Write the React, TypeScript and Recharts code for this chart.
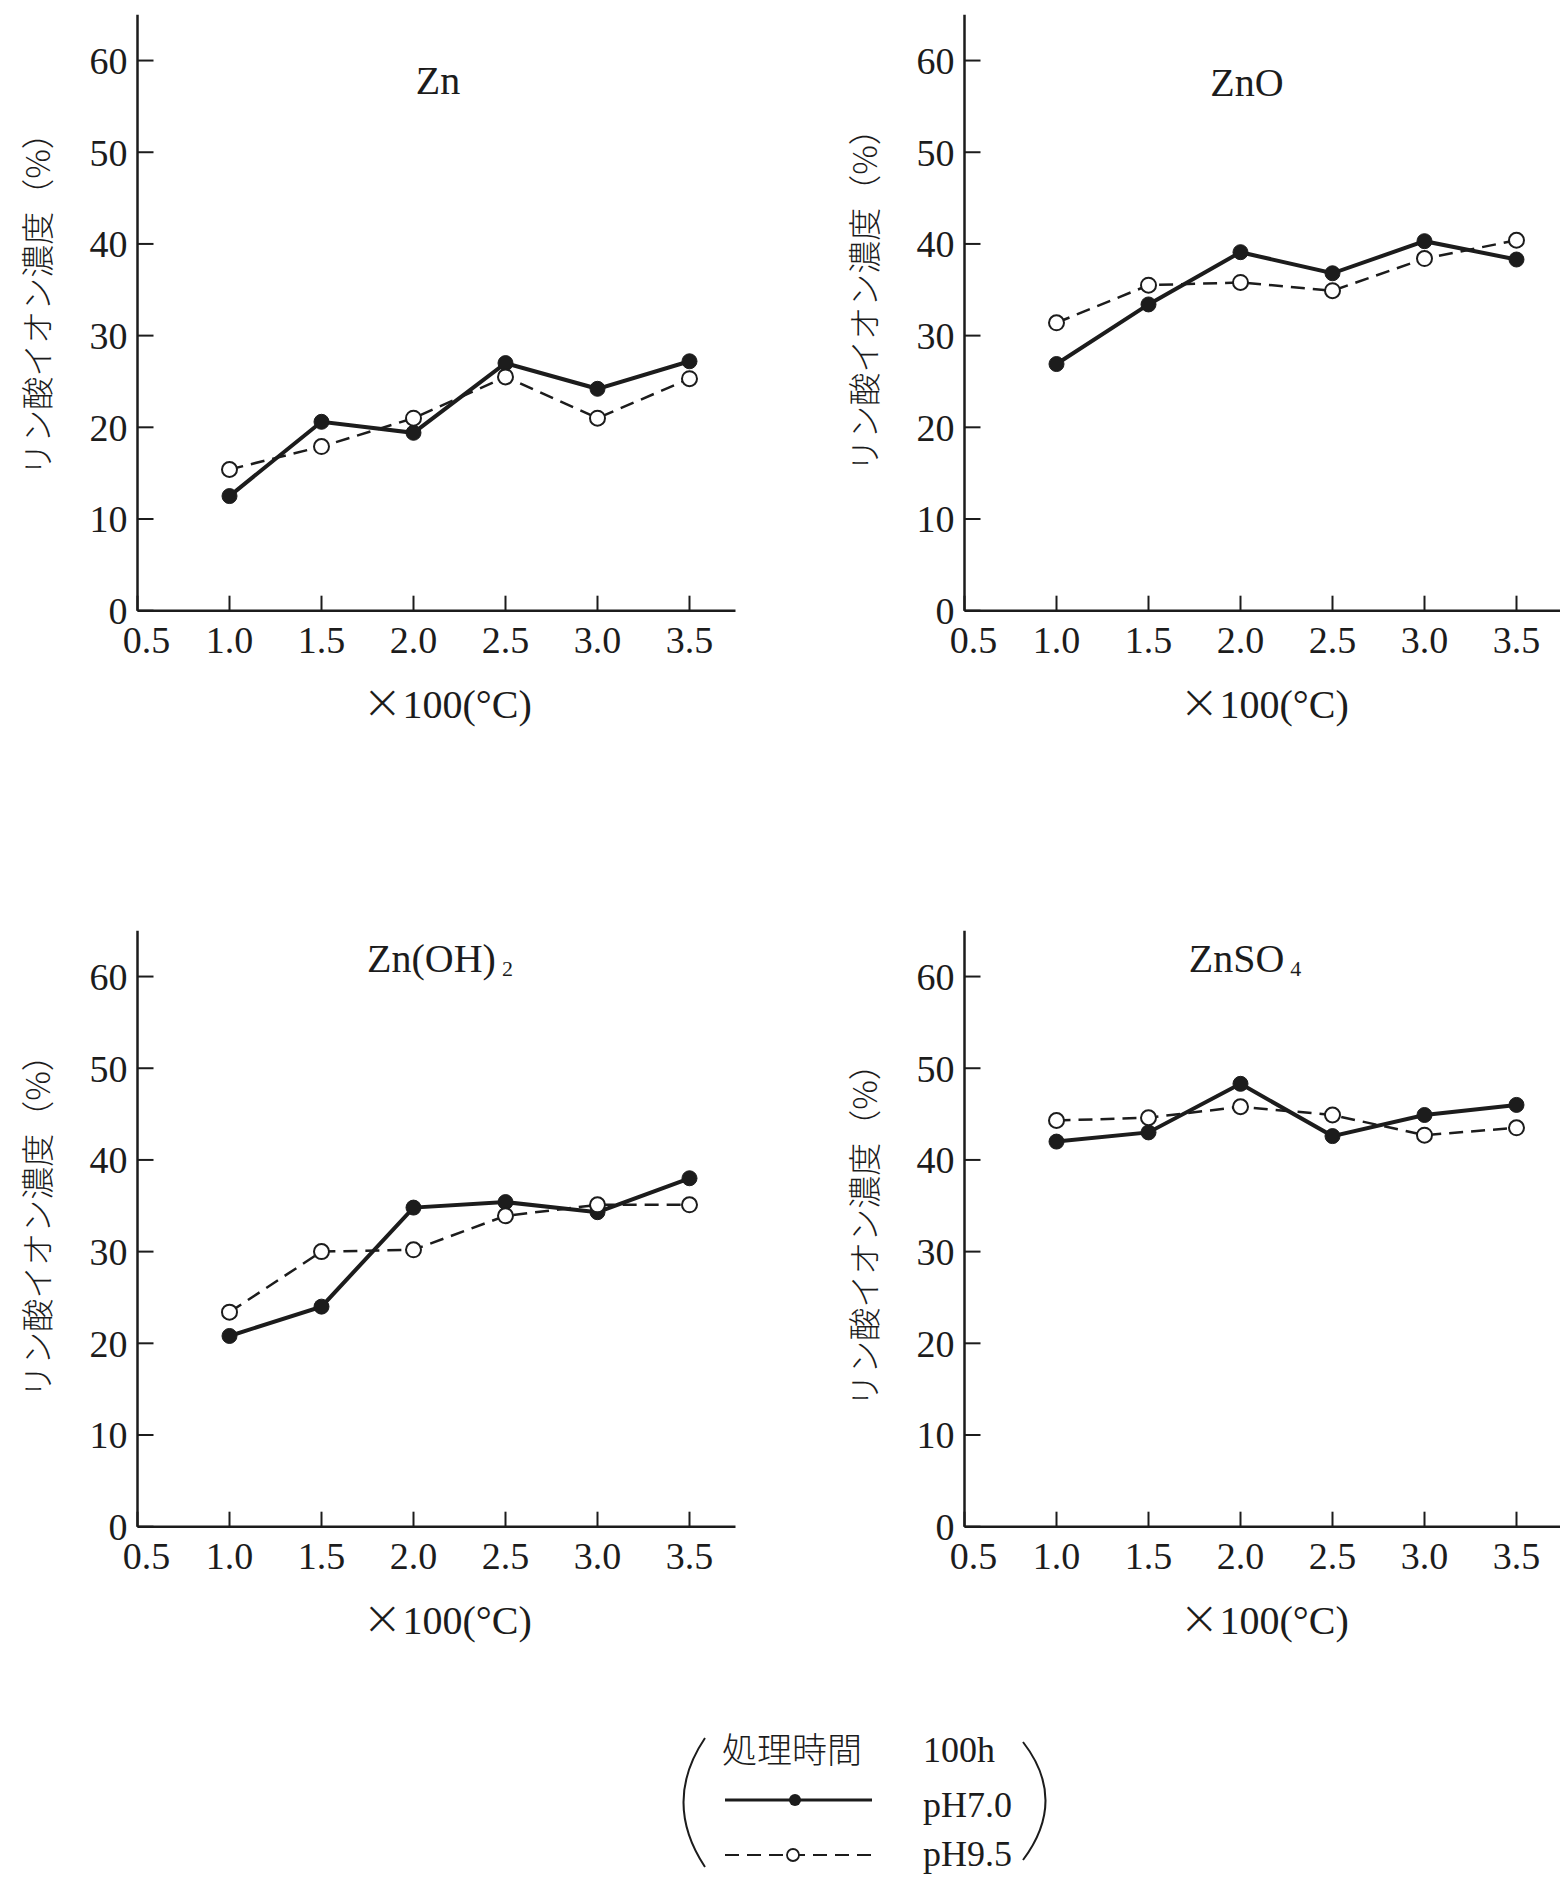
import React from 'react';
import { LineChart, Line, XAxis, YAxis } from 'recharts';

// temperature (x100 °C) and phosphate ion concentration (%)
const temps = [1.0, 1.5, 2.0, 2.5, 3.0, 3.5];

const znPH70 = [12.5, 20.6, 19.4, 27.0, 24.2, 27.2];
const znPH95 = [15.4, 17.9, 21.0, 25.5, 21.0, 25.3];

const znoPH70 = [26.9, 33.4, 39.1, 36.8, 40.3, 38.3];
const znoPH95 = [31.4, 35.5, 35.8, 34.9, 38.4, 40.4];

const znohPH70 = [20.8, 24.0, 34.8, 35.4, 34.3, 38.0];
const znohPH95 = [23.4, 30.0, 30.2, 33.9, 35.1, 35.1];

const znso4PH70 = [42.0, 43.0, 48.3, 42.6, 44.9, 46.0];
const znso4PH95 = [44.3, 44.6, 45.8, 44.9, 42.7, 43.5];

const xTicks = [0.5, 1.0, 1.5, 2.0, 2.5, 3.0, 3.5];
const yTicks = [0, 10, 20, 30, 40, 50, 60];

const yLabel = 'リン酸イオン濃度（%）';

const INK = '#1c1c1c';
const SERIF = '"Liberation Serif", "DejaVu Serif", serif';
const JP = '"Noto Sans CJK JP", sans-serif';

const W = 745.5;
const H = 740.7;
const YW = 137.5;

// x tick: the 0.5 label sits a little right of the y axis, like the original
const XTick = ({ x, y, payload }) => {
  const shift = payload.value === 0.5 ? 9 : 0;
  return (
    <text x={x + shift} y={y} dy="0.71em" textAnchor="middle" fill={INK} fontSize={38} fontFamily={SERIF}>
      {payload.value.toFixed(1)}
    </text>
  );
};

const Panel = ({ left, top, title, sub, ph70, ph95, titleX, titleY, yLabelY, xLabelX }) => {
  const data = temps.map((t, i) => ({ t, ph70: ph70[i], ph95: ph95[i] }));
  return (
    <div style={{ position: 'absolute', left, top }}>
      <LineChart width={W} height={H} data={data} margin={{ top: 14.7, right: 10, bottom: 0, left: 0 }}>
        <XAxis
          dataKey="t"
          type="number"
          domain={[0.5, 3.75]}
          allowDataOverflow
          ticks={xTicks}
          height={130}
          tickSize={-15}
          tickMargin={30}
          axisLine={{ stroke: INK, strokeWidth: 2.5 }}
          tickLine={{ stroke: INK, strokeWidth: 2 }}
          tick={<XTick />}
        />
        <YAxis
          type="number"
          domain={[0, 65]}
          allowDataOverflow
          ticks={yTicks}
          width={YW}
          tickSize={-16}
          tickMargin={26}
          axisLine={{ stroke: INK, strokeWidth: 2.5 }}
          tickLine={{ stroke: INK, strokeWidth: 2 }}
          tick={{ fill: INK, fontSize: 38, fontFamily: SERIF }}
        />
        <Line
          type="linear"
          dataKey="ph70"
          stroke={INK}
          strokeWidth={4}
          dot={{ r: 7.5, fill: INK, stroke: INK, strokeWidth: 1 }}
          activeDot={false}
          isAnimationActive={false}
        />
        <Line
          type="linear"
          dataKey="ph95"
          stroke={INK}
          strokeWidth={2.5}
          strokeDasharray="14 8"
          dot={{ r: 7.5, fill: '#fff', stroke: INK, strokeWidth: 2, strokeDasharray: '0' }}
          activeDot={false}
          isAnimationActive={false}
        />
        <text x={titleX} y={titleY} textAnchor="middle" fill={INK} fontSize={40} fontFamily={SERIF}>
          {title}
          {sub && (
            <tspan fontSize={22} dx={6} dy={4}>
              {sub}
            </tspan>
          )}
        </text>
        <text
          x={36}
          y={yLabelY}
          transform={`rotate(-90 36 ${yLabelY})`}
          textAnchor="middle"
          dominantBaseline="central"
          fill={INK}
          fontSize={33}
          fontWeight={300}
          fontFamily={JP}
        >
          {yLabel}
        </text>
        <text x={xLabelX} y={718} textAnchor="middle" fill={INK} fontSize={40} fontFamily={SERIF}>
          <tspan fontSize={48} fontFamily={'"DejaVu Sans", sans-serif'} fontWeight={200}>
            ×
          </tspan>
          100(°C)
        </text>
      </LineChart>
    </div>
  );
};

const LegendBox = () => (
  <svg width={1560} height={177} style={{ position: 'absolute', left: 0, top: 1700 }}>
    <path d="M 705 38 Q 662 102 705 167" fill="none" stroke={INK} strokeWidth={2} />
    <path d="M 1023 42 Q 1068 100 1023 160" fill="none" stroke={INK} strokeWidth={2} />
    <text x={722} y={63} fill={INK} fontSize={35} fontWeight={300} fontFamily={JP}>
      処理時間
    </text>
    <text x={923} y={62} fill={INK} fontSize={36} fontFamily={SERIF}>
      100h
    </text>
    <line x1={725} y1={100} x2={872} y2={100} stroke={INK} strokeWidth={3} />
    <circle cx={795} cy={100} r={6} fill={INK} />
    <text x={923} y={117} fill={INK} fontSize={36} fontFamily={SERIF}>
      pH7.0
    </text>
    <line x1={725} y1={155} x2={872} y2={155} stroke={INK} strokeWidth={2} strokeDasharray="14 8" />
    <circle cx={793} cy={155} r={6} fill="#fff" stroke={INK} strokeWidth={1.8} />
    <text x={923} y={166} fill={INK} fontSize={36} fontFamily={SERIF}>
      pH9.5
    </text>
  </svg>
);

export default function App() {
  return (
    <div
      style={{
        position: 'absolute',
        left: 0,
        top: 0,
        width: 1560,
        height: 1877,
        overflow: 'hidden',
        background: '#fff',
      }}
    >
      <Panel left={0} top={0} title="Zn" ph70={znPH70} ph95={znPH95} titleX={438} titleY={94} yLabelY={296} xLabelX={447} />
      <Panel left={826.5} top={0} title="ZnO" ph70={znoPH70} ph95={znoPH95} titleX={420} titleY={96} yLabelY={292} xLabelX={437} />
      <Panel
        left={0}
        top={916.3}
        title="Zn(OH)"
        sub="2"
        ph70={znohPH70}
        ph95={znohPH95}
        titleX={440}
        titleY={56}
        yLabelY={302}
        xLabelX={447}
      />
      <Panel
        left={826.5}
        top={916.3}
        title="ZnSO"
        sub="4"
        ph70={znso4PH70}
        ph95={znso4PH95}
        titleX={418}
        titleY={56}
        yLabelY={311}
        xLabelX={437}
      />
      <LegendBox />
    </div>
  );
}
